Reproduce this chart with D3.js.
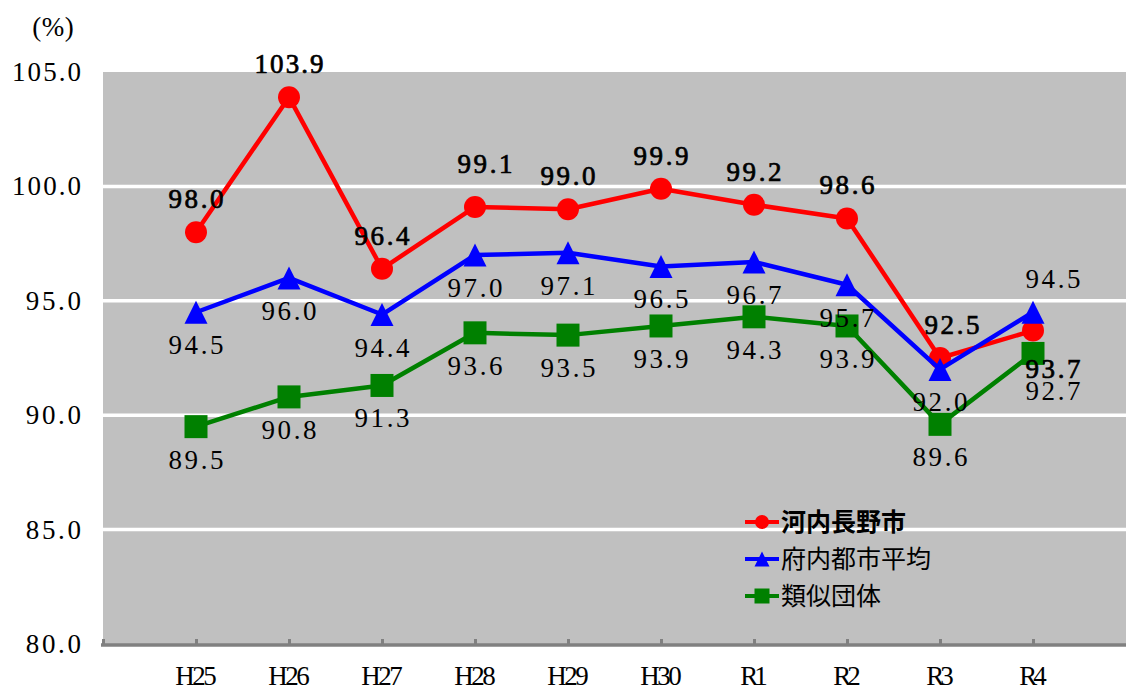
<html>
<head>
<meta charset="utf-8">
<style>
  body { margin: 0; background: #ffffff; }
  .num { font-family: "Liberation Serif", "DejaVu Serif", serif; }
  .jp { font-family: "Noto Sans CJK JP", sans-serif; }
</style>
<script src="https://d3js.org/d3.v7.min.js"></script>
</head>
<body>
<svg width="1126" height="690"></svg>
<script>
var years = ["H25", "H26", "H27", "H28", "H29", "H30", "R1", "R2", "R3", "R4"];
var kawachinagano = [98.0, 103.9, 96.4, 99.1, 99.0, 99.9, 99.2, 98.6, 92.5, 93.7];
var funaiAvg = [94.5, 96.0, 94.4, 97.0, 97.1, 96.5, 96.7, 95.7, 92.0, 94.5];
var ruiji = [89.5, 90.8, 91.3, 93.6, 93.5, 93.9, 94.3, 93.9, 89.6, 92.7];
var yTicks = [80, 85, 90, 95, 100, 105];
var names = ["河内長野市", "府内都市平均", "類似団体"];
// value label above (a) or below (b) its point
var redLabelSide = ["a", "a", "a", "a", "a", "a", "a", "a", "a", "b"];
var blueLabelSide = ["b", "b", "b", "b", "b", "b", "b", "b", "b", "a"];
var greenLabelSide = ["b", "b", "b", "b", "b", "b", "b", "b", "b", "b"];

var svg = d3.select("svg");
var plotLeft = 103, plotRight = 1126, plotTop = 72, plotBottom = 644;
var charW = 13.8;

var x = d3.scaleLinear().domain([0, years.length + 1]).range([plotLeft, plotRight]);
var y = d3.scaleLinear().domain([80, 105]).range([plotBottom, plotTop]);

// plot background
svg.append("rect")
  .attr("x", plotLeft).attr("y", plotTop)
  .attr("width", plotRight - plotLeft).attr("height", plotBottom - plotTop)
  .attr("fill", "#c0c0c0");

// white gridlines
svg.selectAll(".grid")
  .data(yTicks.filter(function(d){ return d > 80 && d < 105; }))
  .enter().append("line")
  .attr("class", "grid")
  .attr("x1", plotLeft).attr("x2", plotRight)
  .attr("y1", function(d){ return y(d); })
  .attr("y2", function(d){ return y(d); })
  .attr("stroke", "#ffffff")
  .attr("stroke-width", 3.5);

function monoText(sel) {
  // mimic the half-width monospaced digits of the original
  sel.attr("textLength", function(){ return this.textContent.length * charW; })
     .attr("lengthAdjust", "spacing");
}

// y axis labels
svg.selectAll(".ytick")
  .data(yTicks)
  .enter().append("text")
  .attr("class", "num ytick")
  .attr("x", 81)
  .attr("y", function(d){ return y(d) + 9; })
  .attr("text-anchor", "end")
  .attr("font-size", "27px")
  .attr("fill", "#000")
  .text(function(d){ return d.toFixed(1); })
  .call(monoText);

svg.append("text")
  .attr("class", "num")
  .attr("x", 53).attr("y", 36)
  .attr("text-anchor", "middle")
  .attr("font-size", "27px")
  .text("(%)")
  .call(monoText);

// x axis
var xAxis = svg.append("g")
  .attr("transform", "translate(0," + (plotBottom + 1) + ")")
  .call(d3.axisBottom(x)
    .tickValues(d3.range(0, years.length + 1))
    .tickSize(-6)
    .tickFormat(""));
xAxis.select(".domain")
  .attr("d", "M" + (plotLeft - 2) + ",0H" + plotRight)
  .attr("stroke", "#808080")
  .attr("stroke-width", 3.5);
xAxis.selectAll(".tick line")
  .attr("stroke", "#808080")
  .attr("stroke-width", 3);

svg.selectAll(".xlab")
  .data(years)
  .enter().append("text")
  .attr("class", "num xlab")
  .attr("x", function(d, i){ return x(i + 1); })
  .attr("y", 685)
  .attr("text-anchor", "middle")
  .attr("font-size", "27px")
  .text(function(d){ return d; })
  .call(monoText);

var series = [
  {name: names[0], values: kawachinagano, color: "#ff0000", shape: "circle", side: redLabelSide, bold: true},
  {name: names[1], values: funaiAvg, color: "#0000ff", shape: "triangle", side: blueLabelSide, bold: false},
  {name: names[2], values: ruiji, color: "#008000", shape: "square", side: greenLabelSide, bold: false}
];

var line = d3.line()
  .x(function(d, i){ return x(i + 1); })
  .y(function(d){ return y(d); });

function drawMarker(g, shape, color, cx, cy, s) {
  if (shape == "circle") {
    g.append("circle").attr("cx", cx).attr("cy", cy).attr("r", s / 2).attr("fill", color);
  } else if (shape == "triangle") {
    g.append("path")
      .attr("d", "M" + cx + "," + (cy - s / 2) + "L" + (cx + s / 2) + "," + (cy + s / 2) + "L" + (cx - s / 2) + "," + (cy + s / 2) + "Z")
      .attr("fill", color);
  } else {
    g.append("rect").attr("x", cx - s / 2).attr("y", cy - s / 2)
      .attr("width", s).attr("height", s).attr("fill", color);
  }
}

series.forEach(function(s) {
  var g = svg.append("g");
  g.append("path")
    .datum(s.values)
    .attr("d", line)
    .attr("fill", "none")
    .attr("stroke", s.color)
    .attr("stroke-width", 4.5)
    .attr("stroke-linejoin", "round");
  s.values.forEach(function(v, i) {
    drawMarker(g, s.shape, s.color, x(i + 1), y(v), s.shape == "circle" ? 22 : 23);
  });
});

// value labels on top of everything
series.forEach(function(s) {
  var last = s.values.length - 1;
  svg.append("g").selectAll("text")
    .data(s.values)
    .enter().append("text")
    .attr("class", "num")
    .attr("x", function(d, i){
      var dx = 0;
      if (i == last) dx = 20;
      if (s.bold && i == 8) dx = 12;
      if (s.bold && i == 3) dx = 10;
      return x(i + 1) + dx;
    })
    .attr("y", function(d, i){
      var dy = s.side[i] == "a" ? -24 : 42;
      if (s.bold && i == 3) dy = -34;
      if (i == last && s.side[i] == "b") dy = 47;
      return y(d) + dy;
    })
    .attr("text-anchor", "middle")
    .attr("font-size", "27px")
    .attr("fill", "#000")
    .attr("stroke", s.bold ? "#000" : "none")
    .attr("stroke-width", 0.7)
    .text(function(d){ return d.toFixed(1); })
    .call(monoText);
});

// legend
var legend = svg.append("g").attr("transform", "translate(745,522)");
series.forEach(function(s, i) {
  var row = legend.append("g").attr("transform", "translate(0," + (i * 37) + ")");
  row.append("line")
    .attr("x1", 0).attr("x2", 34)
    .attr("y1", 0).attr("y2", 0)
    .attr("stroke", s.color)
    .attr("stroke-width", 4);
  drawMarker(row, s.shape, s.color, 17, 0, s.shape == "circle" ? 14 : 15);
  row.append("text")
    .attr("class", "jp")
    .attr("x", 36).attr("y", 9)
    .attr("font-size", "25px")
    .attr("font-weight", s.bold ? "bold" : "normal")
    .attr("fill", "#000")
    .text(s.name);
});
</script>
</body>
</html>
